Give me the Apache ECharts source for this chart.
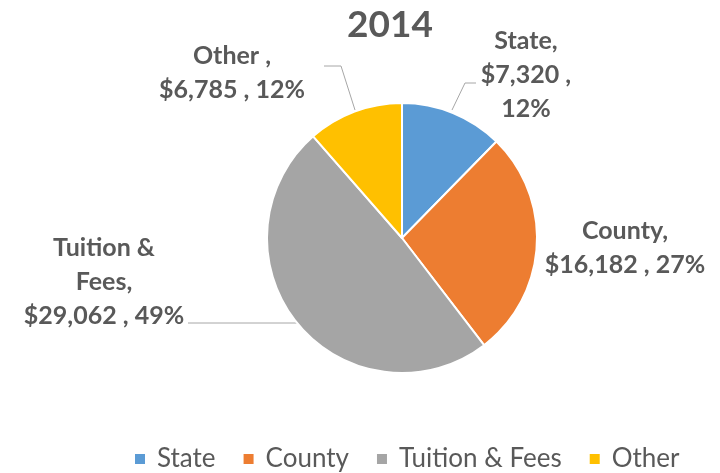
<!DOCTYPE html>
<html><head><meta charset="utf-8">
<script src="https://cdn.jsdelivr.net/npm/echarts@6/dist/echarts.min.js"></script>
<style>html,body{margin:0;padding:0;background:#fff}#c{width:720px;height:473px}</style>
</head><body><div id="c"></div>
<script>
const title = '2014';
const categories = ['State', 'County', 'Tuition & Fees', 'Other'];
const values = [7320, 16182, 29062, 6785];
const percents = [12, 27, 49, 12];
const colors = ['#5B9BD5', '#ED7D31', '#A5A5A5', '#FFC000'];

function money(v) { return '$' + v.toLocaleString('en-US'); }
const labelTexts = [
  categories[0] + ',\n' + money(values[0]) + ' ,\n' + percents[0] + '%',
  categories[1] + ',\n' + money(values[1]) + ' , ' + percents[1] + '%',
  'Tuition &\nFees,\n' + money(values[2]) + ' , ' + percents[2] + '%',
  categories[3] + ' ,\n' + money(values[3]) + ' , ' + percents[3] + '%'
];

const labelPos = [
  {x: 526, y: 75, lines: [[452, 110], [465, 83], [476, 83]]},
  {x: 625, y: 248, lines: null},
  {x: 104, y: 282, lines: [[299, 323], [188, 323]]},
  {x: 232, y: 73, lines: [[355, 110], [341, 66], [324, 66]]}
];

const FONT = 'Lato';
const chart = echarts.init(document.getElementById('c'));
chart.setOption({
  animation: false,
  title: {
    text: title, left: 385, top: 2, textAlign: 'center',
    textStyle: {fontFamily: FONT, fontWeight: 'bold', fontSize: 37, color: '#595959'}
  },
  legend: {
    top: 441, left: 128, itemWidth: 12, itemHeight: 12, itemGap: 26, icon: 'rect',
    textStyle: {fontFamily: FONT, fontSize: 26, color: '#595959', padding: [0, 0, 0, 6]},
    data: categories
  },
  series: [{
    type: 'pie',
    center: [402, 238],
    radius: [0, 135],
    startAngle: 90,
    clockwise: true,
    itemStyle: {borderColor: '#fff', borderWidth: 2},
    data: categories.map((c, i) => ({
      name: c, value: values[i], itemStyle: {color: colors[i]},
      labelLine: {show: labelPos[i].lines !== null}
    })),
    label: {
      show: true,
      formatter: p => labelTexts[p.dataIndex],
      fontFamily: FONT, fontWeight: 'bold', fontSize: 25, lineHeight: 34,
      color: '#595959', align: 'center', overflow: 'none'
    },
    labelLine: {show: true, lineStyle: {color: '#A6A6A6', width: 1}},
    labelLayout: function (p) {
      const lp = labelPos[p.dataIndex];
      const r = {x: lp.x, y: lp.y, align: 'center', verticalAlign: 'middle'};
      if (lp.lines) r.labelLinePoints = lp.lines;
      return r;
    }
  }]
});
</script></body></html>
